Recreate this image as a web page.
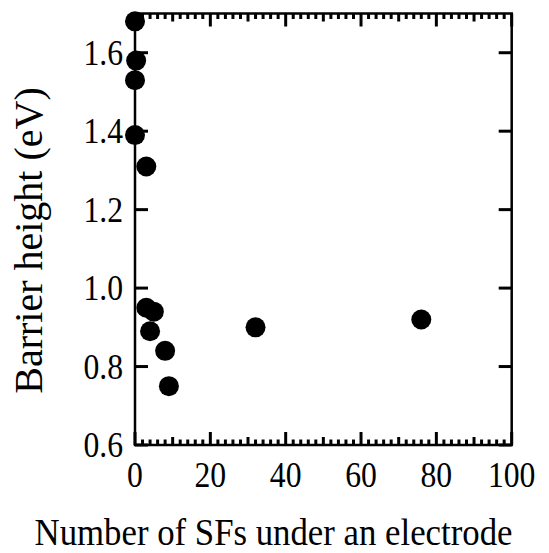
<!DOCTYPE html>
<html>
<head>
<meta charset="utf-8">
<script src="https://cdn.jsdelivr.net/npm/d3@7"></script>
<style>
  body { margin: 0; background: #fff; }
  svg { display: block; }
</style>
</head>
<body>
<div id="chart"></div>
<script>
// values
const sfCounts = [0, 0.3, 0, 0, 3, 3, 5, 4, 8, 9, 32, 76];
const barrierHeights = [1.68, 1.58, 1.53, 1.39, 1.31, 0.95, 0.94, 0.89, 0.84, 0.75, 0.9, 0.92];
const xTicks = [0, 20, 40, 60, 80, 100];
const yTicks = [0.6, 0.8, 1.0, 1.2, 1.4, 1.6];
const xTickLabels = ["0", "20", "40", "60", "80", "100"];
const yTickLabels = ["0.6", "0.8", "1.0", "1.2", "1.4", "1.6"];

(() => {
  const width = 549;
  const height = 553;
  const margin = { top: 13.5, right: 37.3, bottom: 108, left: 135 };
  const font = "Liberation Serif, serif";
  const squeeze = 0.88; // the scan is a bit narrower than tall

  const data = sfCounts.map((d, i) => ({ n: d, h: barrierHeights[i] }));

  const svg = d3
    .select("#chart")
    .append("svg")
    .attr("width", width)
    .attr("height", height);

  const x = d3
    .scaleLinear()
    .domain([0, 100])
    .range([margin.left, width - margin.right]);

  const y = d3
    .scaleLinear()
    .domain([0.6, 1.7])
    .range([height - margin.bottom, margin.top]);

  const x0 = x.range()[0], x1 = x.range()[1];
  const yb = y.range()[0], yt = y.range()[1];

  // frame
  svg
    .append("rect")
    .attr("x", x0)
    .attr("y", yt)
    .attr("width", x1 - x0)
    .attr("height", yb - yt)
    .attr("fill", "none")
    .attr("stroke", "#000")
    .attr("stroke-width", 2.5);

  // x ticks: every 2 short, every 10 medium, every 20 long, top and bottom
  const xAll = d3.range(0, 101, 2).map((v) => ({
    v,
    len: v % 20 === 0 ? 13 : v % 10 === 0 ? 8 : 5.5,
  }));

  const tickLine = (sel) =>
    sel.attr("stroke", "#000").attr("stroke-width", 3).attr("stroke-linecap", "butt");

  svg
    .selectAll("line.xb")
    .data(xAll)
    .join("line")
    .attr("class", "xb")
    .call(tickLine)
    .attr("x1", (d) => x(d.v))
    .attr("x2", (d) => x(d.v))
    .attr("y1", yb)
    .attr("y2", (d) => yb - d.len);

  svg
    .selectAll("line.xt")
    .data(xAll)
    .join("line")
    .attr("class", "xt")
    .call(tickLine)
    .attr("x1", (d) => x(d.v))
    .attr("x2", (d) => x(d.v))
    .attr("y1", yt)
    .attr("y2", (d) => yt + d.len);

  svg
    .selectAll("line.yl")
    .data(yTicks)
    .join("line")
    .attr("class", "yl")
    .call(tickLine)
    .attr("x1", x0)
    .attr("x2", x0 + 13)
    .attr("y1", (d) => y(d))
    .attr("y2", (d) => y(d));

  svg
    .selectAll("line.yr")
    .data(yTicks)
    .join("line")
    .attr("class", "yr")
    .call(tickLine)
    .attr("x1", x1)
    .attr("x2", x1 - 13)
    .attr("y1", (d) => y(d))
    .attr("y2", (d) => y(d));

  // tick labels
  svg
    .append("g")
    .selectAll("text")
    .data(xTicks)
    .join("text")
    .attr("transform", (d) => `translate(${x(d)}, ${yb + 42}) scale(${squeeze}, 1)`)
    .attr("text-anchor", "middle")
    .attr("font-family", font)
    .attr("font-size", 36)
    .text((d, i) => xTickLabels[i]);

  svg
    .append("g")
    .selectAll("text")
    .data(yTicks)
    .join("text")
    .attr("transform", (d) => `translate(${x0 - 12}, ${y(d)}) scale(${squeeze}, 1)`)
    .attr("dy", "0.34em")
    .attr("text-anchor", "end")
    .attr("font-family", font)
    .attr("font-size", 36)
    .text((d, i) => yTickLabels[i]);

  // points
  svg
    .append("g")
    .selectAll("circle")
    .data(data)
    .join("circle")
    .attr("cx", (d) => x(d.n))
    .attr("cy", (d) => y(d.h))
    .attr("r", 10)
    .attr("fill", "#000");

  // titles
  svg
    .append("text")
    .attr("transform", `translate(273.5, 545) scale(0.94, 1)`)
    .attr("text-anchor", "middle")
    .attr("font-family", font)
    .attr("font-size", 37)
    .text("Number of SFs under an electrode");

  svg
    .append("text")
    .attr("transform", "translate(42, 240.5) rotate(-90)")
    .attr("text-anchor", "middle")
    .attr("font-family", font)
    .attr("font-size", 40)
    .text("Barrier height (eV)");
})();
</script>
</body>
</html>
